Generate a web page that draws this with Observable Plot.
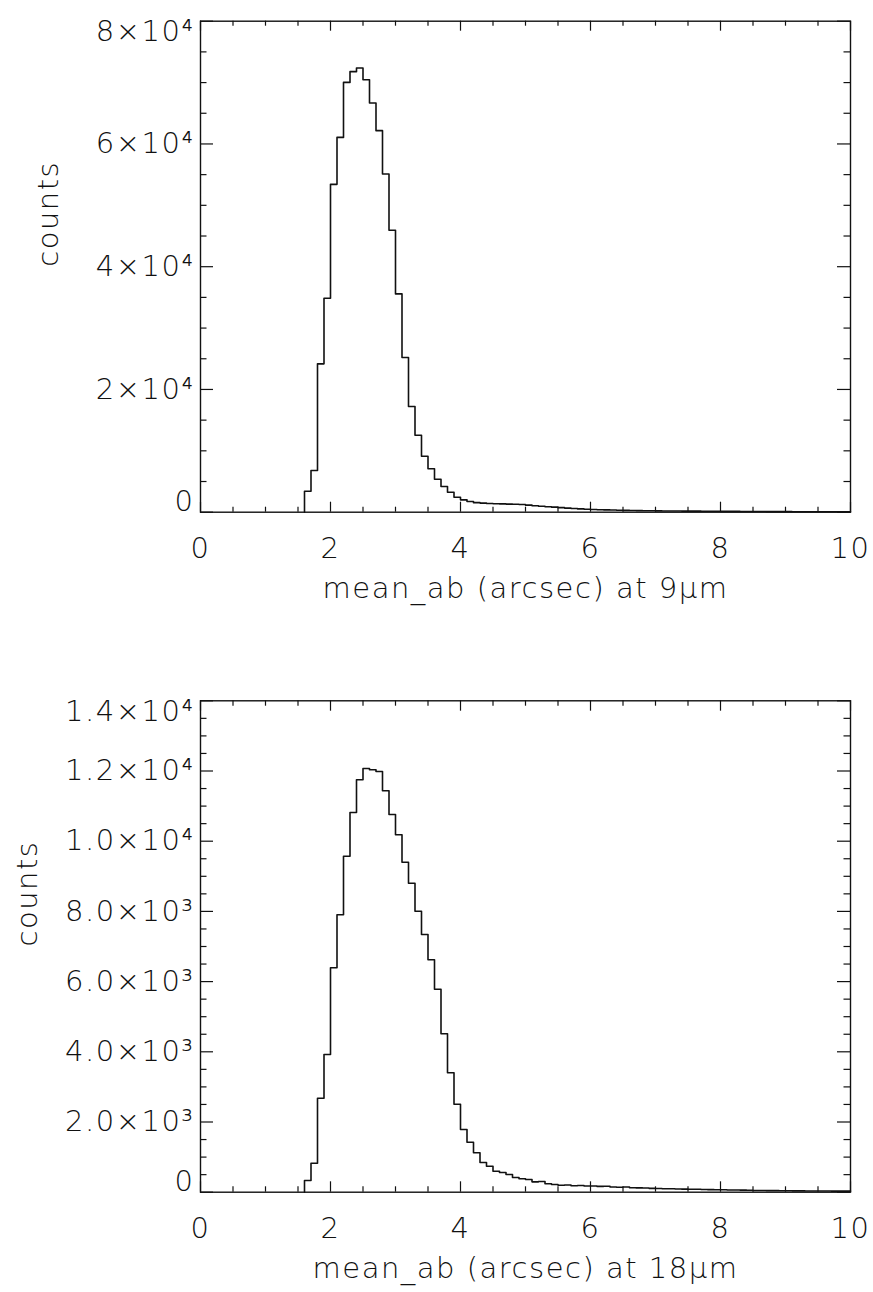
<!DOCTYPE html>
<html>
<head>
<meta charset="utf-8">
<script src="https://cdn.jsdelivr.net/npm/d3@7"></script>
<script src="https://cdn.jsdelivr.net/npm/@observablehq/plot@0.6"></script>
<style>
  html, body { margin: 0; padding: 0; background: #fff; }
  #chart svg { display: block; }
</style>
</head>
<body>
<div id="chart"></div>
<script>
// ---- data ----
// histogram bins of width 0.1 arcsec, first bin starts at 1.6
const binStarts = d3.range(16, 100).map(i => i / 10);
const binEnd = 10;

const counts9 = [
  3420, 6790, 24170, 34850,
  53420, 61070, 70030, 71780, 72380, 70470, 66680, 62170, 55110, 45930,
  35570, 25200, 17210, 12540, 9120, 7070, 5370, 4190, 3260, 2440,
  2010, 1740, 1560, 1480, 1420, 1380, 1350, 1320, 1290, 1250,
  1150, 1060, 980, 900, 820, 740, 670, 600, 540, 490,
  440, 410, 380, 350, 320, 290, 275, 260, 245, 230,
  215, 205, 198, 190, 182, 175, 168, 160, 152, 146,
  140, 134, 128, 122, 116, 111, 106, 101, 96, 92,
  88, 84, 80, 76, 72, 68, 65, 62, 59, 56
];

const counts18 = [
  333, 826, 2678, 3923,
  6393, 7903, 9573, 10818, 11750, 12071, 12034, 11986, 11436, 10761,
  10182, 9402, 8803, 8006, 7342, 6621, 5783, 4513, 3402, 2507,
  1786, 1425, 1123, 846, 741, 598, 561, 504, 420, 385,
  360, 295, 305, 240, 220, 200, 205, 185, 190, 175,
  178, 165, 170, 150, 140, 150, 128, 122, 118, 110,
  106, 100, 98, 92, 88, 85, 82, 78, 74, 71,
  68, 64, 61, 58, 54, 50, 48, 46, 44, 42,
  40, 39, 37, 36, 35, 34, 33, 32, 31, 30
];

const xMajor = [0, 2, 4, 6, 8, 10];
const xMinor = [0.5, 1, 1.5, 2.5, 3, 3.5, 4.5, 5, 5.5, 6.5, 7, 7.5, 8.5, 9, 9.5];
const xTickLabels = ["0", "2", "4", "6", "8", "10"];

const y9Major = [0, 20000, 40000, 60000, 80000];
const y9Minor = [5000, 10000, 15000, 25000, 30000, 35000, 45000, 50000, 55000, 65000, 70000, 75000];
const y9Labels = ["0", "2×10⁴", "4×10⁴", "6×10⁴", "8×10⁴"];

const y18Major = [0, 2000, 4000, 6000, 8000, 10000, 12000, 14000];
const y18Minor = [500, 1000, 1500, 2500, 3000, 3500, 4500, 5000, 5500, 6500, 7000, 7500,
                  8500, 9000, 9500, 10500, 11000, 11500, 12500, 13000, 13500];
const y18Labels = ["0", "2.0×10³", "4.0×10³", "6.0×10³", "8.0×10³", "1.0×10⁴", "1.2×10⁴", "1.4×10⁴"];

const xTitle9 = "mean_ab (arcsec) at 9μm";
const xTitle18 = "mean_ab (arcsec) at 18μm";
const yTitle = "counts";

// ---- drawing ----
const W = 873, mL = 200, mR = 23, plotH = 491, plotW = 650;
const FONT = "DejaVu Sans, sans-serif";
const FS = 29;
const INK = "#111";

function stepData(counts) {
  const pts = [{x: binStarts[0], y: 0}];
  counts.forEach((c, i) => pts.push({x: binStarts[i], y: c}));
  pts.push({x: binEnd, y: counts[counts.length - 1]});
  return pts;
}

function panel({counts, yMax, yMajor, yMinor, yLabels, xTitle, height, mT, mB, yTitleDx}) {
  const last = yMajor.length - 1;
  const txt = {fontFamily: FONT, fontSize: FS, fontWeight: 200, fill: INK};
  return Plot.plot({
    width: W, height,
    marginLeft: mL, marginRight: mR, marginTop: mT, marginBottom: mB,
    style: {fontFamily: FONT, letterSpacing: "1.5px", background: "white"},
    x: {domain: [0, 10], axis: null},
    y: {domain: [0, yMax], axis: null},
    marks: [
      // histogram step line
      Plot.line(stepData(counts), {x: "x", y: "y", curve: "step-after", stroke: INK, strokeWidth: 1.6}),
      // bottom/top x ticks (inward)
      Plot.tickX(xMajor, {x: d => d, insetTop: plotH - 10, stroke: INK, strokeWidth: 1.2}),
      Plot.tickX(xMinor, {x: d => d, insetTop: plotH - 5, stroke: INK, strokeWidth: 1.2}),
      Plot.tickX(xMajor, {x: d => d, insetBottom: plotH - 10, stroke: INK, strokeWidth: 1.2}),
      Plot.tickX(xMinor, {x: d => d, insetBottom: plotH - 5, stroke: INK, strokeWidth: 1.2}),
      // left/right y ticks (inward)
      Plot.tickY(yMajor, {y: d => d, insetRight: plotW - 13, stroke: INK, strokeWidth: 1.2}),
      Plot.tickY(yMinor, {y: d => d, insetRight: plotW - 6.5, stroke: INK, strokeWidth: 1.2}),
      Plot.tickY(yMajor, {y: d => d, insetLeft: plotW - 13, stroke: INK, strokeWidth: 1.2}),
      Plot.tickY(yMinor, {y: d => d, insetLeft: plotW - 6.5, stroke: INK, strokeWidth: 1.2}),
      Plot.frame({stroke: INK, strokeWidth: 1.4}),
      // x tick labels
      Plot.text(xMajor, {x: d => d, text: (d, i) => xTickLabels[i], frameAnchor: "bottom", dy: 37, lineAnchor: "middle", ...txt}),
      // y tick labels (IDL keeps end labels inside the axis range)
      Plot.text(yMajor.slice(1, last), {y: d => d, text: (d, i) => yLabels[i + 1], frameAnchor: "left", dx: -6, textAnchor: "end", lineAnchor: "middle", ...txt}),
      Plot.text([yMajor[0]], {y: d => d, text: () => yLabels[0], frameAnchor: "left", dx: -6, dy: -10, textAnchor: "end", lineAnchor: "middle", ...txt}),
      Plot.text([yMajor[last]], {y: d => d, text: () => yLabels[last], frameAnchor: "left", dx: -6, dy: 11, textAnchor: "end", lineAnchor: "middle", ...txt}),
      // axis titles
      Plot.text([xTitle], {frameAnchor: "bottom", dy: 77, lineAnchor: "middle", ...txt}),
      Plot.text([yTitle], {frameAnchor: "left", dx: yTitleDx, rotate: -90, lineAnchor: "middle", ...txt})
    ]
  });
}

const chart = document.getElementById("chart");
chart.append(panel({
  counts: counts9, yMax: 80000, yMajor: y9Major, yMinor: y9Minor, yLabels: y9Labels,
  xTitle: xTitle9, height: 640, mT: 20.7, mB: 128.3, yTitleDx: -152
}));
chart.append(panel({
  counts: counts18, yMax: 14000, yMajor: y18Major, yMinor: y18Minor, yLabels: y18Labels,
  xTitle: xTitle18, height: 652, mT: 60.3, mB: 100.3, yTitleDx: -173
}));
</script>
</body>
</html>
